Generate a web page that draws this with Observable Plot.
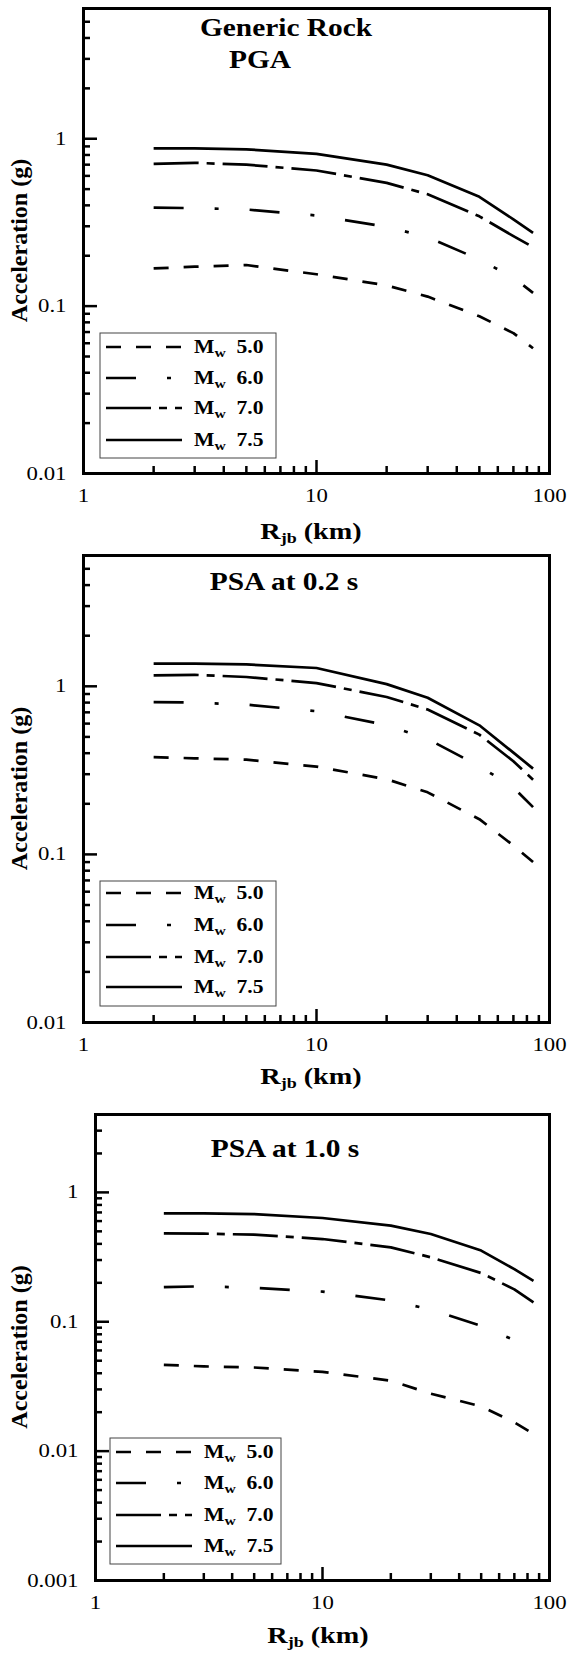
<!DOCTYPE html>
<html>
<head>
<meta charset="utf-8">
<script src="https://cdn.jsdelivr.net/npm/d3@7"></script>
<script src="https://cdn.jsdelivr.net/npm/@observablehq/plot@0.6"></script>
<style>
  html, body { margin: 0; padding: 0; background: #fff; }
  #root { width: 568px; }
  #root svg { display: block; }
</style>
</head>
<body>
<div id="root"></div>
<script>
// ---------- data ----------
const distances = [2, 3, 5, 10, 20, 30, 50, 70, 85];           // Rjb (km)
const magnitudes = ["5.0", "6.0", "7.0", "7.5"];

// PGA (g)
const pgaMw50 = [0.168, 0.172, 0.176, 0.155, 0.133, 0.114, 0.087, 0.069, 0.056];
const pgaMw60 = [0.388, 0.385, 0.378, 0.348, 0.298, 0.258, 0.190, 0.148, 0.120];
const pgaMw70 = [0.708, 0.718, 0.700, 0.646, 0.545, 0.466, 0.344, 0.262, 0.225];
const pgaMw75 = [0.875, 0.875, 0.865, 0.812, 0.700, 0.605, 0.450, 0.330, 0.274];

// PSA at 0.2 s (g)
const psa02Mw50 = [0.379, 0.373, 0.366, 0.333, 0.280, 0.234, 0.162, 0.113, 0.090];
const psa02Mw60 = [0.806, 0.800, 0.778, 0.711, 0.588, 0.486, 0.335, 0.250, 0.191];
const psa02Mw70 = [1.163, 1.170, 1.136, 1.045, 0.864, 0.727, 0.516, 0.358, 0.278];
const psa02Mw75 = [1.365, 1.365, 1.350, 1.285, 1.030, 0.855, 0.586, 0.403, 0.324];

// PSA at 1.0 s (g)
const psa10Mw50 = [0.0464, 0.0452, 0.0443, 0.0410, 0.0350, 0.0278, 0.0222, 0.0167, 0.0136];
const psa10Mw60 = [0.185, 0.188, 0.183, 0.171, 0.146, 0.124, 0.093, 0.072, 0.058];
const psa10Mw70 = [0.482, 0.480, 0.471, 0.436, 0.376, 0.315, 0.238, 0.178, 0.141];
const psa10Mw75 = [0.688, 0.688, 0.680, 0.634, 0.553, 0.477, 0.355, 0.255, 0.207];

// ticks
const xTickLabels = [1, 10, 100];
const xMajorTicks = [10];
const xMinorTicks = [2, 3, 4, 5, 6, 7, 8, 9, 20, 30, 40, 50, 60, 70, 80, 90];
const yLabelsA = [0.01, 0.1, 1];
const yMinorA = [0.02, 0.03, 0.04, 0.05, 0.06, 0.07, 0.08, 0.09,
                 0.2, 0.3, 0.4, 0.5, 0.6, 0.7, 0.8, 0.9, 2, 3, 4, 5];
const yLabelsB = [0.001, 0.01, 0.1, 1];
const yMinorB = [0.002, 0.003, 0.004, 0.005, 0.006, 0.007, 0.008, 0.009,
                 0.02, 0.03, 0.04, 0.05, 0.06, 0.07, 0.08, 0.09,
                 0.2, 0.3, 0.4, 0.5, 0.6, 0.7, 0.8, 0.9, 2, 3];
const yDomainA = [0.01, 6];
const yDomainB = [0.001, 4];

const titlesPGA = ["Generic Rock", "PGA"];
const titles02 = ["PSA at 0.2 s"];
const titles10 = ["PSA at 1.0 s"];
const xTitle = "R";
const xTitleSub = "jb";
const xTitleRest = " (km)";
const yTitle = "Acceleration (g)";
const legendPrefix = "M";
const legendSub = "w";

// ---------- styles / layout ----------
const dashes = {"5.0": "15,15", "6.0": "30,31,4,31", "7.0": "45,8,8,8", "7.5": null};
const SX = 1.2;           // horizontal text stretch seen in the reference
const serif = "Liberation Serif, Times New Roman, serif";

const panels = [
  {series: [pgaMw50, pgaMw60, pgaMw70, pgaMw75], yDomain: yDomainA, yLabels: yLabelsA, yMinor: yMinorA,
   titles: titlesPGA, height: 550, mt: 8, mb: 77, ml: 83, mr: 19,
   titlePos: [[286, 36], [260, 68]], xTitlePos: [311, 539], yTitleX: 27,
   legend: {x: 100, y: 333, w: 176, h: 125, rows: [347, 378, 408, 440]}},
  {series: [psa02Mw50, psa02Mw60, psa02Mw70, psa02Mw75], yDomain: yDomainA, yLabels: yLabelsA, yMinor: yMinorA,
   titles: titles02, height: 550, mt: 5, mb: 78, ml: 83, mr: 19,
   titlePos: [[284, 40]], xTitlePos: [311, 534], yTitleX: 27,
   legend: {x: 100, y: 331, w: 176, h: 125, rows: [343, 375, 407, 437]}},
  {series: [psa10Mw50, psa10Mw60, psa10Mw70, psa10Mw75], yDomain: yDomainB, yLabels: yLabelsB, yMinor: yMinorB,
   titles: titles10, height: 553, mt: 14, mb: 73, ml: 95, mr: 19,
   titlePos: [[285, 57]], xTitlePos: [318, 543], yTitleX: 27,
   legend: {x: 110, y: 338, w: 171, h: 126, rows: [352, 383, 415, 446]}}
];

function stretchPlotTexts(svg, s) {
  d3.select(svg).selectAll("text").each(function () {
    const t = d3.select(this);
    const tr = t.attr("transform");
    if (tr) {
      if (!/rotate/.test(tr)) t.attr("transform", tr + ` scale(${s},1)`);
    } else {
      const x = +(t.attr("x") || 0), y = +(t.attr("y") || 0);
      t.attr("x", null).attr("y", null).attr("transform", `translate(${x},${y}) scale(${s},1)`);
    }
  });
}

const root = document.getElementById("root");

panels.forEach((p) => {
  const rows = [];
  magnitudes.forEach((m, k) => p.series[k].forEach((a, i) => rows.push({r: distances[i], a, m})));

  const svg = Plot.plot({
    width: 568,
    height: p.height,
    marginTop: p.mt, marginBottom: p.mb, marginLeft: p.ml, marginRight: p.mr,
    style: {fontFamily: serif, fontSize: "19px", color: "black", background: "white", overflow: "visible"},
    x: {type: "log", domain: [1, 100]},
    y: {type: "log", domain: p.yDomain},
    marks: [
      ...magnitudes.map((m) => Plot.line(rows.filter((d) => d.m === m), {
        x: "r", y: "a", stroke: "black", strokeWidth: 2.7, strokeDasharray: dashes[m], strokeLinecap: "butt"
      })),
      Plot.axisX(xMinorTicks, {anchor: "bottom", tickSize: -7, fill: "none", stroke: "black", strokeWidth: 2.5, label: null}),
      Plot.axisX(xMajorTicks, {anchor: "bottom", tickSize: -13, fill: "none", stroke: "black", strokeWidth: 2.5, label: null}),
      Plot.axisX(xTickLabels, {anchor: "bottom", tickSize: 0, tickPadding: 15, tickFormat: (d) => String(d), label: null}),
      Plot.axisY(p.yMinor, {anchor: "left", tickSize: -7, fill: "none", stroke: "black", strokeWidth: 2.5, label: null}),
      Plot.axisY(p.yLabels, {anchor: "left", tickSize: -14, fill: "none", stroke: "black", strokeWidth: 2.5, label: null}),
      Plot.axisY(p.yLabels, {anchor: "left", tickSize: 0, tickPadding: 17, tickFormat: (d) => String(d), label: null}),
      Plot.frame({stroke: "black", strokeWidth: 3})
    ]
  });
  stretchPlotTexts(svg, SX);

  const s = d3.select(svg);

  // panel title(s)
  p.titles.forEach((t, i) => {
    s.append("text")
      .attr("transform", `translate(${p.titlePos[i][0]},${p.titlePos[i][1]}) scale(${SX},1)`)
      .attr("text-anchor", "middle")
      .attr("font-family", serif).attr("font-weight", "bold").attr("font-size", 24.5)
      .attr("fill", "black")
      .text(t);
  });

  // x-axis title with subscript
  const xt = s.append("text")
    .attr("transform", `translate(${p.xTitlePos[0]},${p.xTitlePos[1]}) scale(${SX},1)`)
    .attr("text-anchor", "middle")
    .attr("font-family", serif).attr("font-weight", "bold").attr("font-size", 23.5)
    .attr("fill", "black");
  xt.append("tspan").text(xTitle);
  xt.append("tspan").attr("font-size", 15).attr("dy", 4).text(xTitleSub);
  xt.append("tspan").attr("dy", -4).text(xTitleRest);

  // y-axis title
  s.append("text")
    .attr("transform", `translate(${p.yTitleX},${(p.mt + p.height - p.mb) / 2}) rotate(-90)`)
    .attr("text-anchor", "middle")
    .attr("font-family", serif).attr("font-weight", "bold").attr("font-size", 24)
    .attr("fill", "black")
    .text(yTitle);

  // legend
  const L = p.legend;
  const g = s.append("g");
  g.append("rect").attr("x", L.x).attr("y", L.y).attr("width", L.w).attr("height", L.h)
    .attr("fill", "white").attr("stroke", "#444").attr("stroke-width", 1);
  magnitudes.forEach((m, k) => {
    const yy = L.rows[k];
    g.append("line").attr("x1", L.x + 6).attr("x2", L.x + 82).attr("y1", yy).attr("y2", yy)
      .attr("stroke", "black").attr("stroke-width", 2.7)
      .attr("stroke-dasharray", dashes[m]);
    const t = g.append("text")
      .attr("transform", `translate(${L.x + 94},${yy + 6}) scale(${SX},1)`)
      .attr("text-anchor", "start")
      .attr("font-family", serif).attr("font-weight", "bold").attr("font-size", 18)
      .attr("fill", "black");
    t.append("tspan").text(legendPrefix);
    t.append("tspan").attr("font-size", 13).attr("dy", 4).text(legendSub);
    t.append("tspan").attr("dy", -4).attr("dx", 9).text(m);
  });

  root.appendChild(svg);
});
</script>
</body>
</html>
